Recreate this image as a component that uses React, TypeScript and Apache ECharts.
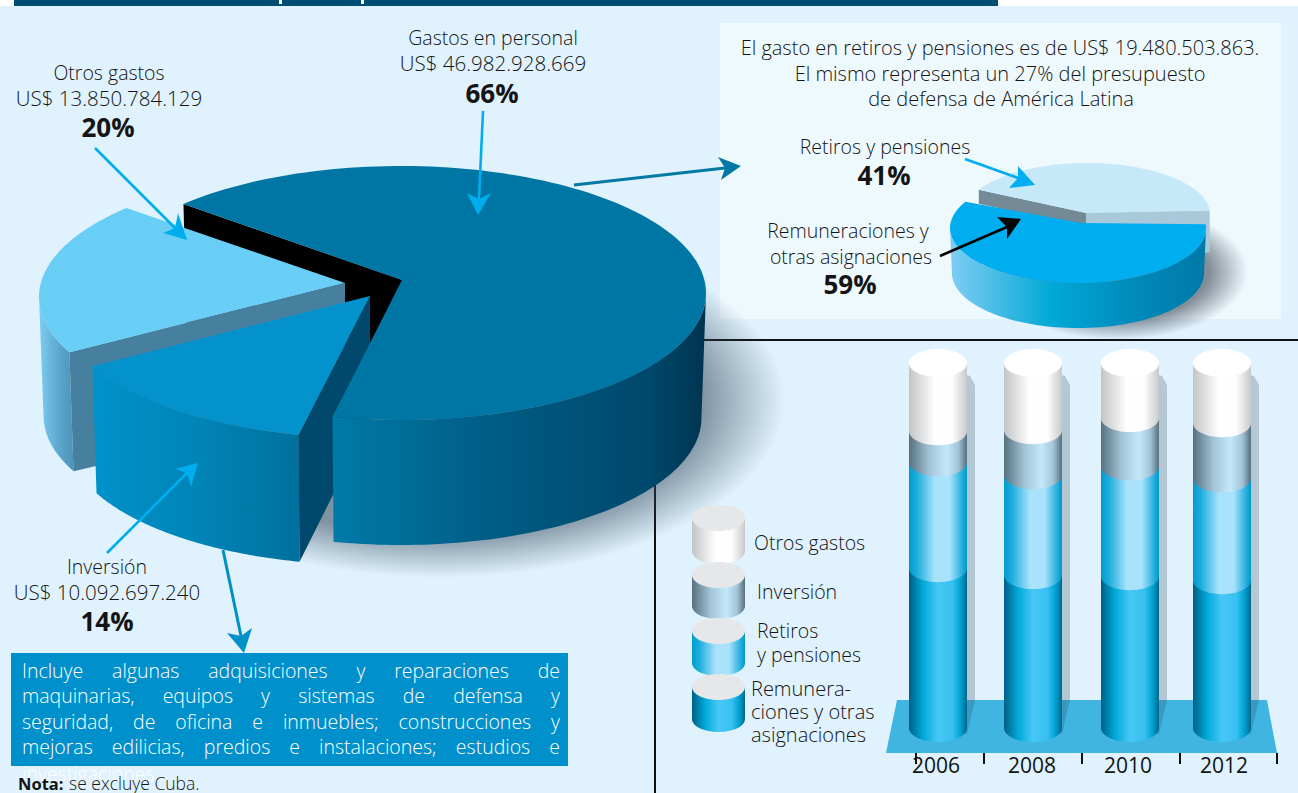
import React, { useEffect, useRef } from "react";
import * as echarts from "echarts";

// Presupuesto de defensa: composicion del gasto, US$
const gastoNames = ["Otros gastos", "Inversión", "Gastos en personal"];
const gastoValues = [13850784129, 10092697240, 46982928669];
const gastoPct = ["20%", "14%", "66%"];

// Desglose de gastos en personal, %
const personalNames = ["Retiros y pensiones", "Remuneraciones y otras asignaciones"];
const personalValues = [41, 59];

// Evolucion por rubro, % del total
const years = ["2006", "2008", "2010", "2012"];
const remuneraciones = [43.8, 41.9, 41.6, 40.5];
const retiros = [29.0, 27.4, 30.1, 27.9];
const inversion = [8.5, 12.3, 13.2, 15.1];
const otros = [18.7, 18.4, 15.1, 16.5];

const retiroTotal = 19480503863;
const boxLines = [
  "Incluye algunas adquisiciones y reparaciones de",
  "maquinarias, equipos y sistemas de defensa y",
  "seguridad, de oficina e inmuebles; construcciones y",
  "mejoras edilicias, predios e instalaciones; estudios e",
];
const boxLastLine = "investigaciones.";

const FONT = '"Open Sans"';
const INK = "#141414";
const TEXT_SIZE = 19.5;
const AMOUNT_SIZE = 20.5;
const PCT_SIZE = 26;

const usd = (v: number) => "US$ " + String(v).replace(/\B(?=(\d{3})+(?!\d))/g, ".");

const hGrad = (stops: [number, string][]) =>
  new echarts.graphic.LinearGradient(0, 0, 1, 0, stops.map(([offset, color]) => ({ offset, color })));

const arc = (cx: number, cy: number, rx: number, ry: number, a0: number, a1: number, n = 72) => {
  const pts: number[][] = [];
  for (let i = 0; i <= n; i++) {
    const a = ((a0 + ((a1 - a0) * i) / n) * Math.PI) / 180;
    pts.push([cx + rx * Math.cos(a), cy - ry * Math.sin(a)]);
  }
  return pts;
};

const poly = (points: number[][], fill: any, z2 = 0) => ({
  type: "polygon",
  z2,
  shape: { points },
  style: { fill },
});

// Lateral curvo de una porcion entre dos angulos
const wall = (
  cx: number, cy: number, rx: number, ry: number,
  a0: number, a1: number, depth: number, taper: number,
) => [
  ...arc(cx, cy, rx, ry, a0, a1),
  ...arc(cx, cy + depth, rx * taper, ry, a1, a0),
];

const bodyFills = () => ({
  otros: hGrad([[0, "#c3c4c6"], [0.45, "#ffffff"], [0.75, "#fdfdfd"], [1, "#c8c9cb"]]),
  inversion: hGrad([[0, "#56707f"], [0.35, "#a3c4d6"], [0.65, "#c4e8fb"], [0.85, "#a3c4d6"], [1, "#56707f"]]),
  retiros: hGrad([[0, "#009cce"], [0.14, "#1eaedd"], [0.45, "#aae2fc"], [0.7, "#aae2fc"], [0.92, "#22aedc"], [1, "#0097c8"]]),
  remuneraciones: hGrad([[0, "#005f85"], [0.24, "#00a8d8"], [0.5, "#47c8f7"], [0.75, "#38c0f0"], [0.88, "#00a5d5"], [1, "#00678d"]]),
});

const RX = 29;
const RY = 14;
const columnNudge = [2, 1, 2, -2];

// Un tramo del cilindro: v0 y v1 son los limites acumulados del rubro
const columnLayer = (fill: any, isTop: boolean) => (params: any, api: any) => {
  const i = api.value(0);
  const cx = api.coord([i, 0])[0] + columnNudge[params.dataIndex];
  const yBottom = api.coord([i, api.value(1)])[1];
  const yTop = api.coord([i, api.value(2)])[1];
  const children: any[] = [
    poly(
      [
        [cx - RX, yTop - RY],
        [cx + RX, yTop - RY],
        ...arc(cx, yBottom - RY, RX, RY, 0, -180, 40),
      ],
      fill,
    ),
  ];
  if (isTop) children.push(poly(arc(cx, yTop - RY, RX, RY, 0, 360, 60), "#ffffff", 1));
  return { type: "group", children };
};

const columnShadow = (params: any, api: any) => {
  const i = api.value(0);
  const x = api.coord([i, 0])[0] + columnNudge[params.dataIndex] + RX;
  const yBase = api.coord([i, 0])[1];
  const yTop = api.coord([i, api.value(1)])[1];
  return poly(
    [
      [x - 4, yTop - 3],
      [x + 3, yTop - 1],
      [x + 8, yTop + 8],
      [x + 8, yBase - 42],
      [x, yBase - 8],
      [x - 4, yBase - 8],
    ],
    "rgba(40,65,80,0.24)",
  );
};

// Torta principal
const MAIN = { rx: 305, ry: 127, depth: 127, taper: 0.985, start: 135.5 };
const gastoTotal = gastoValues.reduce((a, b) => a + b, 0);
const mainGeo = [
  { cx: 344, cy: 297, ax: 345, ay: 283 },
  { cx: 367, cy: 311, ax: 370, ay: 296 },
  { cx: 401, cy: 293, ax: 402, ay: 280 },
];

const mainPie = (params: any, api: any) => {
  const idx = params.dataIndex;
  const sweep = (v: number) => (v / gastoTotal) * 360;
  let a0 = MAIN.start;
  for (let k = 0; k < idx; k++) a0 += sweep(gastoValues[k]);
  const a1 = a0 + sweep(api.value(0));
  const g = mainGeo[idx];
  const { rx, ry, depth, taper } = MAIN;
  const top = (a: number) => arc(g.cx, g.cy, rx, ry, a, a, 1)[0];
  const low = (a: number) => arc(g.cx, g.cy + depth, rx * taper, ry, a, a, 1)[0];
  const apex = [g.ax, g.ay];
  const apexLow = [g.ax, g.ay + depth - 2];
  if (idx === 0) {
    return {
      type: "group",
      children: [
        poly(wall(g.cx, g.cy, rx, ry, 180, a1, depth - 8, taper), hGrad([[0, "#7fcdf1"], [0.6, "#5aa6cd"], [1, "#4b93b8"]]), 2),
        poly([apex, top(a1), low(a1).map((c, n) => (n ? c - 8 : c)), apexLow], "#47809f", 3),
        poly([apex, ...arc(g.cx, g.cy, rx, ry, a0, a1)], "#68cef6", 4),
      ],
    };
  }
  if (idx === 1) {
    return {
      type: "group",
      children: [
        poly(wall(g.cx, g.cy, rx, ry, a0, a1, depth, taper), hGrad([[0, "#0092ca"], [0.5, "#0085b7"], [1, "#00709c"]]), 5),
        poly([apex, top(a1), low(a1), apexLow], "#00496d", 6),
        poly([apex, ...arc(g.cx, g.cy, rx, ry, a0, a1)], "#0392cb", 7),
      ],
    };
  }
  // Gastos en personal: el corte trasero negro parte del angulo final de la vuelta
  return {
    type: "group",
    children: [
      poly([top(a1), apex, apexLow, low(a1)], "#000000", 1),
      poly(wall(g.cx, g.cy, rx, ry, a0, 360, depth - 2, taper), hGrad([[0, "#007aa8"], [0.45, "#005b83"], [0.85, "#00486c"], [1, "#00344f"]]), 8),
      poly([apex, ...arc(g.cx, g.cy, rx, ry, a0, a1, 140)], "#0076a5", 9),
    ],
  };
};

// Torta del recuadro
const personalPie = (params: any, api: any) => {
  const total = personalValues.reduce((a, b) => a + b, 0);
  const start = 4;
  const retiroSweep = (personalValues[0] / total) * 360;
  if (params.dataIndex === 0) {
    const sw = (api.value(0) / total) * 360;
    const [cx, cy, rx, ry, d] = [1087, 214, 123, 51, 42];
    const apex = [1086, 213];
    const r = arc(cx, cy, rx, ry, start, start, 1)[0];
    const l = arc(cx, cy, rx, ry, start + sw, start + sw, 1)[0];
    return {
      type: "group",
      children: [
        poly([apex, r, [r[0], r[1] + d], [apex[0], apex[1] + d]], "#a9c8da", 1),
        poly([apex, l, [l[0], l[1] + 14], [apex[0], apex[1] + 14]], "#748a96", 2),
        poly([apex, ...arc(cx, cy, rx, ry, start, start + sw)], "#c6e9fa", 3),
      ],
    };
  }
  const a0 = start + retiroSweep;
  const a1 = a0 + (api.value(0) / total) * 360;
  const [cx, cy, rx, ry, d] = [1078, 228, 128, 55, 45];
  return {
    type: "group",
    children: [
      poly(wall(cx, cy, rx, ry, 180, 360, d, 0.985), hGrad([[0, "#7fcdf3"], [0.4, "#00a8d6"], [0.75, "#0088b8"], [1, "#0079a8"]]), 4),
      poly([[1081, 223], ...arc(cx, cy, rx, ry, a0, a1)], "#00aeef", 5),
    ],
  };
};

const FRONT = 20;

const label = (
  text: string, x: number, y: number,
  opt: { size?: number; weight?: any; fill?: string; align?: string } = {},
) => ({
  type: "text",
  z: FRONT,
  x,
  y,
  silent: true,
  style: {
    text,
    fontFamily: FONT,
    fontSize: opt.size ?? TEXT_SIZE,
    fontWeight: opt.weight ?? 300,
    fill: opt.fill ?? INK,
    align: opt.align ?? "center",
    textAlign: opt.align ?? "center",
    verticalAlign: "middle",
    textVerticalAlign: "middle",
  },
});

const arrow = (
  from: number[], notch: number[], tip: number[], w1: number[], w2: number[],
  color: string, width = 2.6,
) => [
  { type: "line", z: FRONT, shape: { x1: from[0], y1: from[1], x2: notch[0], y2: notch[1] }, style: { stroke: color, lineWidth: width } },
  { type: "polygon", z: FRONT, shape: { points: [tip, w1, notch, w2] }, style: { fill: color } },
];

// Texto justificado: cada palabra se ubica segun su ancho medido
const justified = (line: string, left: number, right: number, y: number, size: number) => {
  const ctx = document.createElement("canvas").getContext("2d") as CanvasRenderingContext2D;
  ctx.font = `300 ${size}px ${FONT}`;
  const words = line.split(" ");
  const widths = words.map((w) => ctx.measureText(w).width);
  const gap = (right - left - widths.reduce((a, b) => a + b, 0)) / (words.length - 1);
  let x = left;
  return words.map((w, i) => {
    const el = label(w, x, y, { size, fill: "#ffffff", align: "left" });
    x += widths[i] + gap;
    return el;
  });
};

const legendCyl = (fill: any, cy: number, bottom: number) => {
  const [cx, rx, ry] = [718.5, 26.5, 13];
  return [
    { type: "polygon", z: FRONT - 1, shape: { points: [[cx - rx, cy], [cx + rx, cy], ...arc(cx, bottom - ry, rx, ry, 0, -180, 40)] }, style: { fill } },
    { type: "polygon", z: FRONT - 1, shape: { points: arc(cx, cy, rx, ry, 0, 360, 60) }, style: { fill: "#e6e7e8" } },
  ];
};

const radial = (stops: [number, string][]) =>
  new echarts.graphic.RadialGradient(0.5, 0.5, 0.5, stops.map(([offset, color]) => ({ offset, color })));

const buildOption = () => {
  const fills = bodyFills();
  const stack = (arrs: number[][], layer: number) =>
    years.map((_, i) => {
      let base = 0;
      for (let k = 0; k < layer; k++) base += arrs[k][i];
      return [i, base, base + arrs[layer][i]];
    });
  const layers = [remuneraciones, retiros, inversion, otros];
  const layerFills = [fills.remuneraciones, fills.retiros, fills.inversion, fills.otros];
  const layerNames = ["Remuneraciones y otras asignaciones", "Retiros y pensiones", "Inversión", "Otros gastos"];

  const back: any[] = [
    { type: "rect", z: 0, shape: { x: 0, y: 6, width: 1298, height: 787 }, style: { fill: "#dff2fd" } },
    { type: "rect", z: 0, shape: { x: 14, y: 0, width: 984, height: 6 }, style: { fill: "#004e72" } },
    { type: "rect", z: 0, shape: { x: 279, y: 0, width: 3, height: 4 }, style: { fill: "#ffffff" } },
    { type: "rect", z: 0, shape: { x: 361, y: 0, width: 3, height: 4 }, style: { fill: "#ffffff" } },
    { type: "rect", z: 0, shape: { x: 720, y: 23, width: 561, height: 296 }, style: { fill: "#eef9fe" } },
    { type: "line", z: 0, shape: { x1: 700, y1: 340, x2: 1298, y2: 340 }, style: { stroke: "#111111", lineWidth: 2 } },
    { type: "line", z: 0, shape: { x1: 655, y1: 470, x2: 655, y2: 793 }, style: { stroke: "#111111", lineWidth: 2 } },
    {
      type: "ellipse", z: 0, shape: { cx: 440, cy: 400, rx: 345, ry: 178 },
      style: { fill: radial([[0, "rgba(50,70,90,0.6)"], [0.76, "rgba(50,70,90,0.55)"], [1, "rgba(50,70,90,0)"]]) },
    },
    {
      type: "ellipse", z: 0, shape: { cx: 1118, cy: 272, rx: 130, ry: 68 },
      style: { fill: radial([[0, "rgba(60,70,85,0.7)"], [0.7, "rgba(60,70,85,0.6)"], [1, "rgba(60,70,85,0)"]]) },
    },
    { type: "polygon", z: 0, shape: { points: [[897, 700], [1267, 700], [1277, 753], [886, 753]] }, style: { fill: "#40b5e1" } },
    ...[916, 984, 1082, 1180, 1277].map((x) => ({
      type: "line", z: FRONT, shape: { x1: x, y1: 753, x2: x, y2: 764 }, style: { stroke: "#111111", lineWidth: 2 },
    })),
  ];

  const blueBox: any[] = [
    label(boxLastLine, 22, 773, { fill: "#ffffff", align: "left" }),
    { type: "rect", z: FRONT, shape: { x: 11, y: 653, width: 557, height: 113 }, style: { fill: "#0090cb" } },
    ...boxLines.flatMap((l, i) => justified(l, 22, 560, 670 + i * 25.6, TEXT_SIZE)),
    label("Nota:", 18, 783, { size: 16.5, weight: 700, align: "left" }),
    label("se excluye Cuba.", 69, 783, { size: 17.5, align: "left" }),
  ];

  const pct = (t: string, x: number, y: number) => label(t, x, y, { size: PCT_SIZE, weight: 700 });
  const amount = (v: number, x: number, y: number) => label(usd(v), x, y, { size: AMOUNT_SIZE });

  const texts: any[] = [
    label(gastoNames[2], 493, 37),
    amount(gastoValues[2], 493, 63),
    pct(gastoPct[2], 492, 93),
    label(gastoNames[0], 109, 72),
    amount(gastoValues[0], 109, 98),
    pct(gastoPct[0], 108, 127),
    label(gastoNames[1], 107, 566),
    amount(gastoValues[1], 107, 592),
    pct(gastoPct[1], 107, 621),
    label(`El gasto en retiros y pensiones es de ${usd(retiroTotal)}.`, 1000, 47, { size: 20 }),
    label("El mismo representa un 27% del presupuesto", 1000, 73, { size: 20 }),
    label("de defensa de América Latina", 1001, 98, { size: 20 }),
    label(personalNames[0], 885, 146),
    pct(`${personalValues[0]}%`, 884, 175),
    label("Remuneraciones y", 848, 230),
    label("otras asignaciones", 851, 256),
    pct(`${personalValues[1]}%`, 850, 284),
    label("Otros gastos", 754, 542, { align: "left" }),
    label("Inversión", 757, 591, { align: "left" }),
    label("Retiros", 757, 630, { align: "left" }),
    label("y pensiones", 757, 654, { align: "left" }),
    label("Remunera-", 751, 688, { size: 20, align: "left" }),
    label("ciones y otras", 751, 711, { size: 20, align: "left" }),
    label("asignaciones", 751, 734, { size: 20, align: "left" }),
  ];

  const arrows: any[] = [
    ...arrow([483, 111], [479, 199], [478, 215], [467, 193], [491, 193], "#00aeef"),
    ...arrow([95, 148], [175, 228], [187, 240], [163, 233], [178, 213], "#00aeef"),
    ...arrow([574, 185], [725, 168], [741, 166], [718, 157], [721, 180], "#0079a5", 3),
    ...arrow([107, 553], [187, 473], [198, 463], [175, 469], [191, 487], "#00aeef"),
    ...arrow([223, 550], [241, 636], [244, 653], [227, 633], [252, 628], "#0090c8", 3),
    ...arrow([965, 159], [1018, 178], [1035, 185], [1018, 166], [1009, 188], "#00aeef"),
    ...arrow([940, 256], [1007, 227], [1021, 219], [997, 217], [1007, 239], "#000000"),
  ];

  const legend: any[] = [
    ...legendCyl(fills.otros, 518, 564),
    ...legendCyl(fills.inversion, 575, 619),
    ...legendCyl(fills.retiros, 631, 676),
    ...legendCyl(fills.remuneraciones, 687, 732),
  ];

  return {
    animation: false,
    tooltip: { show: false },
    grid: { left: 888, width: 384, top: 377, bottom: 51, containLabel: false },
    xAxis: {
      type: "category",
      data: years,
      axisLine: { show: false },
      axisTick: { show: false },
      axisLabel: { color: "#111111", fontFamily: FONT, fontSize: 21, margin: 12 },
    },
    yAxis: { type: "value", min: 0, max: 100, show: false, splitLine: { show: false } },
    graphic: { elements: [...back, ...blueBox, ...legend, ...texts, ...arrows] },
    series: [
      {
        type: "custom", name: "Torta gastos", coordinateSystem: "none", silent: true, z: 3,
        data: gastoValues.map((v) => [v]), renderItem: mainPie,
      },
      {
        type: "custom", name: "Torta personal", coordinateSystem: "none", silent: true, z: 3,
        data: personalValues.map((v) => [v]), renderItem: personalPie,
      },
      {
        type: "custom", name: "Sombra", silent: true, z: 3, clip: false,
        data: years.map((_, i) => [i, layers.reduce((s, a) => s + a[i], 0)]),
        encode: { x: 0, y: 1 }, renderItem: columnShadow,
      },
      ...layers.map((arr, k) => ({
        type: "custom", name: layerNames[k], silent: true, z: 4 + k, clip: false,
        data: stack(layers, k),
        encode: { x: 0, y: [1, 2] },
        renderItem: columnLayer(layerFills[k], k === layers.length - 1),
      })),
    ],
  };
};

export default function App() {
  const ref = useRef<HTMLDivElement>(null);
  useEffect(() => {
    document.body.style.margin = "0";
    document.body.style.background = "#ffffff";
    const chart = echarts.init(ref.current as HTMLDivElement, undefined, { renderer: "svg" });
    chart.setOption(buildOption() as any);
    return () => chart.dispose();
  }, []);
  return <div ref={ref} style={{ width: 1298, height: 793 }} />;
}
